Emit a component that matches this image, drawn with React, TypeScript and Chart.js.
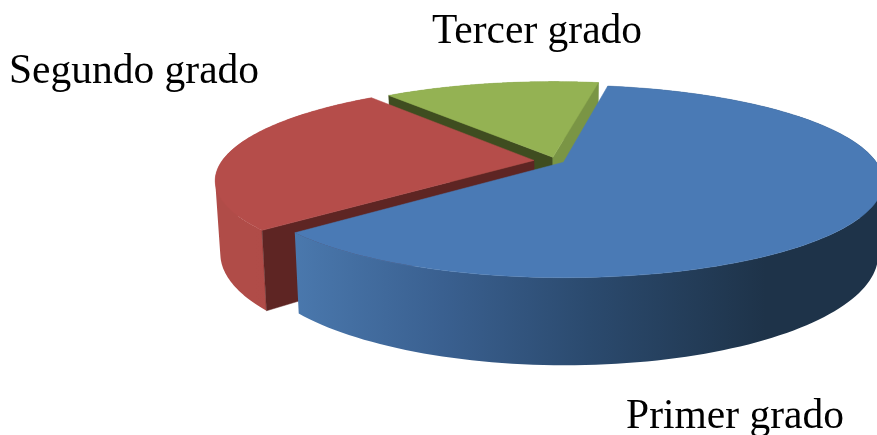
import React, { useEffect, useRef } from "react";
import { Chart, registerables } from "chart.js";

Chart.register(...registerables);

const categories = ["Primer grado", "Segundo grado", "Tercer grado"];
const shares = [60.7, 26, 13.3];
const topColors = ["#4A7AB5", "#B54D4A", "#94B253"];
const startWallColors = ["#2E4B70", "#5E2523", "#3F4D20"];
const endWallColors = ["#2E4B70", "#5E2523", "#7A9545"];
const explode = [21, 54, 32];
const wallGradients = [
  ["#4A78AD", "#3A6090", "#2B4A6E", "#1E3349", "#1E3349"],
  ["#B04C48", "#B04C48", "#AE4A46", "#A84744", "#A84744"],
  ["#6F8A3E", "#6F8A3E", "#6F8A3E", "#6F8A3E", "#6F8A3E"],
];

const view = { cx: 556, cy: 161, R: 312, K: 92, p: 0.198, D: 70, s: 0.985 };
const labelFont = '41.5px "Liberation Serif"';
const labelSpots = [
  { x: 735, y: 428 },
  { x: 134, y: 83 },
  { x: 537, y: 43 },
];

function project(u: number, v: number, lower: boolean) {
  const w = 1 - view.p * v;
  const scale = lower ? view.s : 1;
  return {
    x: view.cx + (scale * view.R * u) / w,
    y: view.cy + (view.K * v) / w + (lower ? view.D / w : 0),
  };
}

const pie3d = {
  id: "pie3d",
  beforeDatasetsDraw(chart: any) {
    const ctx = chart.ctx as CanvasRenderingContext2D;
    const arcs = chart.getDatasetMeta(0).data as any[];
    // painter's order: back slices first
    const order = [2, 1, 0];
    for (const i of order) {
      const el = arcs[i];
      const a0 = el.startAngle as number;
      const a1 = el.endAngle as number;
      const mid = (a0 + a1) / 2;
      const e = (el.options.offset || 0) / 4 / el.outerRadius;
      const ax = Math.cos(mid) * e;
      const ay = Math.sin(mid) * e;
      const steps = 140;
      const rim: { u: number; v: number }[] = [];
      for (let k = 0; k <= steps; k++) {
        const a = a0 + ((a1 - a0) * k) / steps;
        rim.push({ u: ax + Math.cos(a), v: ay + Math.sin(a) });
      }
      const path = (pts: { x: number; y: number }[], fill: any) => {
        ctx.beginPath();
        pts.forEach((q, n) => (n ? ctx.lineTo(q.x, q.y) : ctx.moveTo(q.x, q.y)));
        ctx.closePath();
        ctx.fillStyle = fill;
        ctx.fill();
        ctx.strokeStyle = fill;
        ctx.lineWidth = 0.5;
        ctx.stroke();
      };

      // outer wall: all strips in one path, wound the same way, so no seams show
      const upper = rim.map((r) => project(r.u, r.v, false));
      const lower = rim.map((r) => project(r.u, r.v, true));
      const xs = upper.concat(lower).map((q) => q.x);
      const grad = ctx.createLinearGradient(Math.min(...xs), 0, Math.max(...xs), 0);
      wallGradients[i].forEach((c, n) =>
        grad.addColorStop(n === 3 ? 0.8 : n / 4, c)
      );
      ctx.beginPath();
      for (let k = 0; k < steps; k++) {
        let quad = [upper[k], upper[k + 1], lower[k + 1], lower[k]];
        let area = 0;
        quad.forEach((q, n) => {
          const t = quad[(n + 1) % 4];
          area += q.x * t.y - t.x * q.y;
        });
        if (area < 0) quad = quad.slice().reverse();
        quad.forEach((q, n) => (n ? ctx.lineTo(q.x, q.y) : ctx.moveTo(q.x, q.y)));
        ctx.closePath();
      }
      ctx.fillStyle = grad;
      ctx.fill();

      // cut faces that look toward the viewer
      const wall = (r: { u: number; v: number }, colour: string) =>
        path(
          [
            project(ax, ay, false),
            project(r.u, r.v, false),
            project(r.u, r.v, true),
            project(ax, ay, true),
          ],
          colour
        );
      if (Math.cos(a0) < 0) wall(rim[0], startWallColors[i]);
      if (Math.cos(a1) > 0) wall(rim[steps], endWallColors[i]);

      // top face
      path([project(ax, ay, false), ...upper], el.options.backgroundColor);
    }
    return false;
  },
  afterDraw(chart: any) {
    const ctx = chart.ctx as CanvasRenderingContext2D;
    ctx.save();
    ctx.font = labelFont;
    ctx.fillStyle = "#000";
    ctx.textAlign = "center";
    ctx.textBaseline = "alphabetic";
    categories.forEach((t, i) => ctx.fillText(t, labelSpots[i].x, labelSpots[i].y));
    ctx.restore();
  },
};

export default function App() {
  const ref = useRef<HTMLCanvasElement>(null);
  useEffect(() => {
    const chart = new Chart(ref.current!, {
      type: "pie",
      data: {
        labels: categories,
        datasets: [
          {
            data: shares,
            backgroundColor: topColors,
            borderWidth: 0,
            offset: explode,
          },
        ],
      },
      options: {
        animation: false,
        responsive: false,
        rotation: 10,
        events: [],
        plugins: { legend: { display: false }, tooltip: { enabled: false } },
      },
      plugins: [pie3d],
    } as any);
    return () => chart.destroy();
  }, []);
  return (
    <div style={{ position: "fixed", left: 0, top: 0, width: 877, height: 435, background: "#fff", overflow: "hidden" }}>
      <canvas ref={ref} width={877} height={435} style={{ display: "block", filter: "blur(0.4px)" }} />
    </div>
  );
}
